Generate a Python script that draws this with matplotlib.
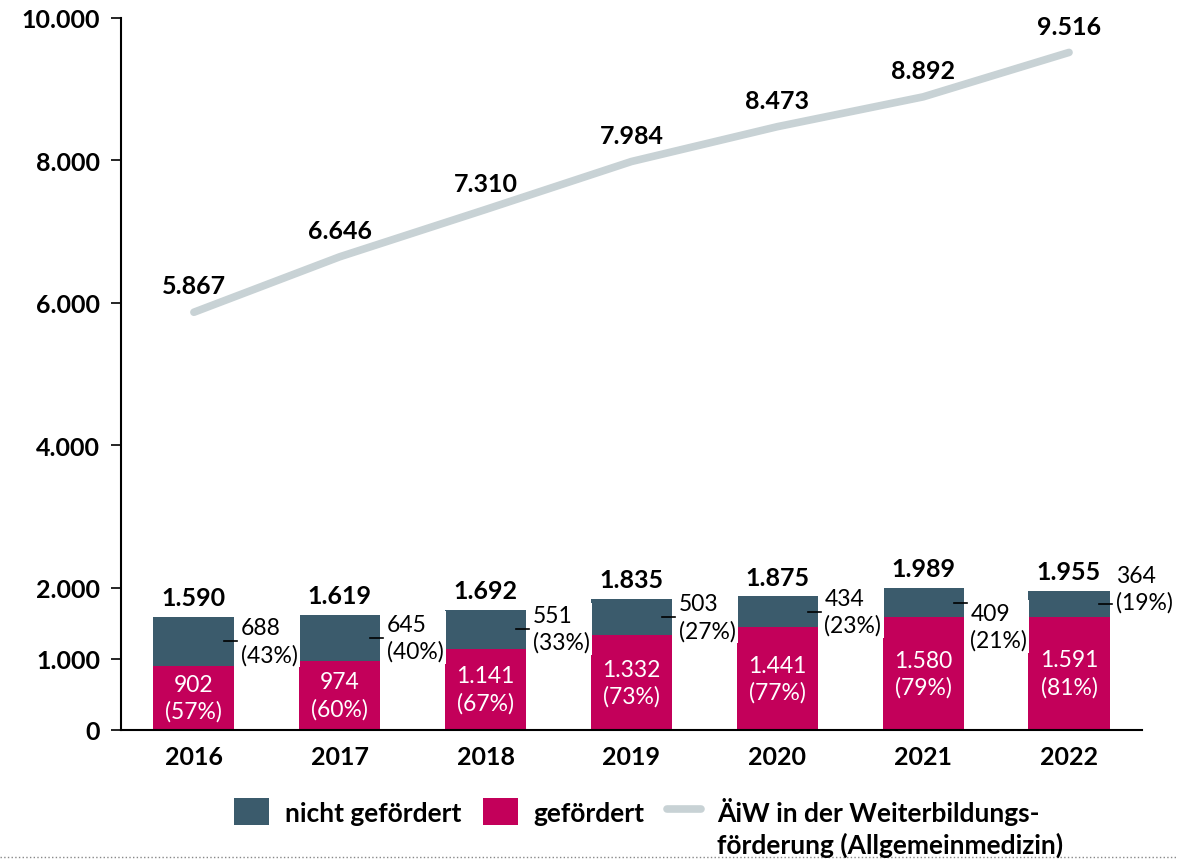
import matplotlib.pyplot as plt
from matplotlib.lines import Line2D
import numpy as np

plt.rcParams['font.family'] = ['Lato', 'DejaVu Sans']

# Daten
jahre = ['2016', '2017', '2018', '2019', '2020', '2021', '2022']
gefoerdert = [902, 974, 1141, 1332, 1441, 1580, 1591]
gefoerdert_pct = [57, 60, 67, 73, 77, 79, 81]
nicht_gefoerdert = [688, 645, 551, 503, 434, 409, 364]
nicht_pct = [43, 40, 33, 27, 23, 21, 19]
gesamt = [1590, 1619, 1692, 1835, 1875, 1989, 1955]
aiw = [5867, 6646, 7310, 7984, 8473, 8892, 9516]
yticks = [0, 1000, 2000, 4000, 6000, 8000, 10000]

c_nicht = '#3b5b6c'
c_gef = '#c3005a'
c_linie = '#c8d2d5'


def fmt(v):
    return f"{v:,}".replace(',', '.')


fig = plt.figure(figsize=(11.78, 8.62), dpi=100)
ax = fig.add_axes([0.1027, 0.152, 0.8667, 0.826])

x = np.arange(len(jahre))
w = 0.556

b_gef = ax.bar(x, gefoerdert, w, color=c_gef, zorder=2)
b_nicht = ax.bar(x, nicht_gefoerdert, w, bottom=gefoerdert, color=c_nicht, zorder=2)
ln, = ax.plot(x, aiw, color=c_linie, lw=5.5, solid_capstyle='round', zorder=3)

# kleine Verschiebungen der Labels (Punkte), wie im Original
label_shift = [0, 0, 0, 0, 0, -17, 11]

for i in range(len(jahre)):
    # gefördert: weiß im Balken
    ax.text(x[i], gefoerdert[i] / 2, f"{fmt(gefoerdert[i])}\n({gefoerdert_pct[i]}%)",
            ha='center', va='center', color='white', fontsize=16.5,
            linespacing=1.3, zorder=5)
    # nicht gefördert: rechts neben dem Balken mit Strich
    ym = gefoerdert[i] + nicht_gefoerdert[i] / 2
    ax.plot([x[i] + w / 2 - 0.07, x[i] + w / 2 + 0.02], [ym, ym],
            color='black', lw=1.2, zorder=6)
    ax.annotate(f"{fmt(nicht_gefoerdert[i])}\n({nicht_pct[i]}%)",
                xy=(x[i] + w / 2 + 0.045, ym), xytext=(0, label_shift[i]),
                textcoords='offset points', ha='left', va='center',
                fontsize=16.5, linespacing=1.3, zorder=5,
                bbox=dict(boxstyle='square,pad=0.1', fc='white', ec='none'))
    # Summe über dem Balken
    ax.annotate(fmt(gesamt[i]), xy=(x[i], gesamt[i]), xytext=(0, 14),
                textcoords='offset points', ha='center', va='center',
                fontsize=18, fontweight='bold', zorder=5)
    # Linienwerte
    ax.annotate(fmt(aiw[i]), xy=(x[i], aiw[i]), xytext=(0, 19),
                textcoords='offset points', ha='center', va='center',
                fontsize=18, fontweight='bold', zorder=5)

ax.set_xlim(-0.5, len(jahre) - 0.5)
ax.set_ylim(0, 10000)
ax.set_yticks(yticks)
ax.set_yticklabels([fmt(v) for v in yticks], fontsize=18, fontweight='bold')
ax.set_xticks(x)
ax.set_xticklabels(jahre, fontsize=18, fontweight='bold')
ax.tick_params(axis='x', length=0, pad=11)
ax.tick_params(axis='y', length=7, width=1.2, pad=8, direction='out')
for s in ['top', 'right']:
    ax.spines[s].set_visible(False)
ax.spines['left'].set_linewidth(1.5)
ax.spines['bottom'].set_linewidth(1.5)

leg = fig.legend([b_nicht, b_gef, ln],
                 ['nicht gefördert', 'gefördert', 'ÄiW in der Weiterbildungs-'],
                 loc='center left', bbox_to_anchor=(0.199, 0.058), ncol=3,
                 frameon=False, handlelength=1.3, handleheight=1.2,
                 columnspacing=0.85, handletextpad=0.6, borderpad=0,
                 borderaxespad=0, prop={'size': 19, 'weight': 'bold'})

# zweite Zeile des Linien-Labels
fig.canvas.draw()
bb = leg.get_texts()[2].get_window_extent()
fig.text(bb.x0 / fig.bbox.width, 1 - 845 / 862, 'förderung (Allgemeinmedizin)',
         ha='left', va='center', fontsize=19, fontweight='bold')

# gepunktete Linie unten
fig.add_artist(Line2D([0, 1], [0.005, 0.005], transform=fig.transFigure,
                      color='#888888', lw=1, ls=':'))

fig.savefig('out.png', dpi=100)
